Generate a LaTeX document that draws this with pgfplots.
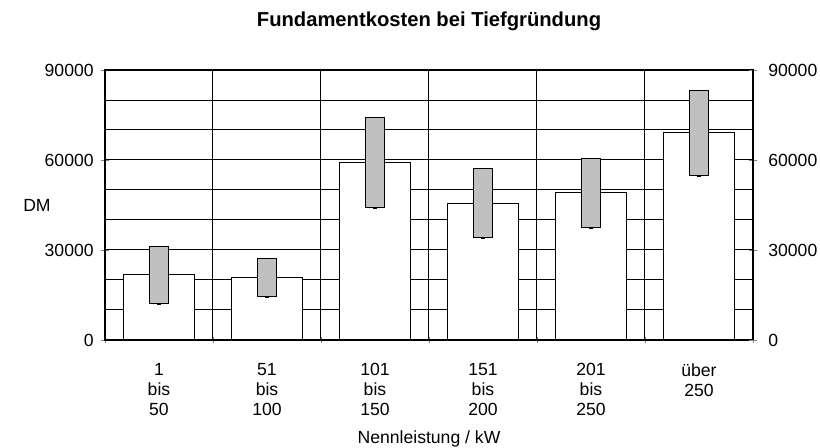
\documentclass[border=0pt]{standalone}
\usepackage{fontspec}
\setmainfont{Liberation Sans}
\usepackage{pgfplots}
\usepackage{pgfplotstable}
\pgfplotsset{compat=1.18}

\definecolor{boxgray}{HTML}{C0C0C0}

% Kosten je Leistungsklasse: Mittelwert, Minimum, Maximum
\pgfplotstableread{
x  mittel  low    high
0  21700   12100  31100
1  20800   14400  27200
2  59100   44200  74200
3  45600   34000  57300
4  49000   37400  60600
5  69000   54800  83100
}\kosten

\pgfplotsset{
  base/.style={
    width=324pt, height=135pt, scale only axis,
    at={(0,0)}, anchor=south west,
    xmin=-0.5, xmax=5.5, ymin=0, ymax=90000,
    ytick={0,30000,60000,90000},
    scaled y ticks=false,
    /pgf/number format/assume math mode=true,
    /pgf/number format/1000 sep={},
    tick label style={font=\fontsize{8.8}{10}\selectfont},
    tick align=center,
    major tick length=4.3pt,
    minor tick length=3pt,
    every axis plot/.append style={line width=0.5pt},
  },
}

\begin{document}
\begin{tikzpicture}
\useasboundingbox (-52.5pt,-54pt) rectangle (357.5pt,170pt);

\begin{axis}[base,
  axis line style={line width=0.6pt},
  ytick pos=left,
  xtick={0,...,5},
  xticklabels={{1\\bis\\50},{51\\bis\\100},{101\\bis\\150},{151\\bis\\200},{201\\bis\\250},{über\\250}},
  xticklabel style={align=center, anchor=north, yshift=-6pt},
  major x tick style={draw=none},
  minor xtick={-0.5,0.5,...,5.5},
  xminorgrids,
  minor x grid style={black, line width=0.5pt},
  minor ytick={10000,20000,...,80000},
  ymajorgrids, yminorgrids,
  major y grid style={black, line width=0.5pt},
  minor y grid style={black, line width=0.5pt},
  minor y tick style={draw=none},
  xtick pos=bottom,
  title={\fontsize{10.1}{12}\selectfont\bfseries Fundamentkosten bei Tiefgründung},
  title style={anchor=base, at={(axis description cs:0.5,1)}, yshift=16pt},
  xlabel={Nennleistung / kW},
  xlabel style={font=\fontsize{8.8}{10}\selectfont, anchor=north, at={(axis description cs:0.5,0)}, yshift=-42pt},
  ylabel={DM},
  ylabel style={font=\fontsize{8.8}{10}\selectfont, rotate=-90, anchor=center, at={(axis description cs:-0.105,0.5)}},
]
\addplot[ybar, bar width=0.66, bar shift=0pt, fill=white, draw=black] table[x=x, y=mittel] {\kosten};
\addplot[only marks, mark=-, mark size=1pt, line width=1.2pt, black] table[x=x, y=low] {\kosten};
\end{axis}

\begin{axis}[base,
  ybar stacked, bar width=0.167,
  axis x line=none,
  axis y line*=right,
  axis line style={line width=0.6pt, -},
  ytick pos=right,
  yticklabel style={xshift=2pt},
]
\addplot[draw=none, fill=none] table[x=x, y=low] {\kosten};
\addplot[fill=boxgray, draw=black] table[x=x, y expr=\thisrow{high}-\thisrow{low}] {\kosten};
\end{axis}
\end{tikzpicture}
\end{document}
